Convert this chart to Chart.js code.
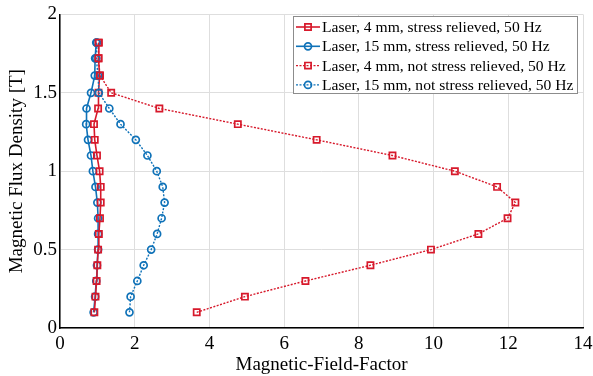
<!DOCTYPE html>
<html lang="en">
<head>
    <meta charset="UTF-8">
    <title>Magnetic-Field-Factor</title>
    <script src="https://cdn.jsdelivr.net/npm/chart.js"></script>
    <style>
        html, body { margin: 0; padding: 0; background: #fff; }
    </style>
</head>
<body>
    <canvas id="myChart" width="593" height="376"></canvas>

    <script>
        // flux density steps (T)
        const fluxDensity = [0.1, 0.2, 0.3, 0.4, 0.5, 0.6, 0.7, 0.8, 0.9, 1.0, 1.1, 1.2, 1.3, 1.4, 1.5, 1.61, 1.72, 1.82];

        // magnetic-field-factor per series
        const laser4Relieved = [0.92, 0.95, 0.98, 1.0, 1.02, 1.04, 1.07, 1.09, 1.09, 1.06, 0.99, 0.93, 0.91, 1.02, 1.03, 1.06, 1.03, 1.04];
        const laser15Relieved = [0.90, 0.94, 0.97, 0.99, 1.02, 1.02, 1.02, 1.0, 0.95, 0.88, 0.83, 0.75, 0.70, 0.71, 0.83, 0.93, 0.94, 0.97];
        const laser4NotRelieved = [3.66, 4.95, 6.57, 8.31, 9.93, 11.2, 11.98, 12.19, 11.7, 10.57, 8.9, 6.87, 4.76, 2.66, 1.37, 1.07, 1.03, 1.03];
        const laser15NotRelieved = [1.86, 1.89, 2.07, 2.24, 2.44, 2.60, 2.72, 2.80, 2.75, 2.59, 2.34, 2.03, 1.62, 1.32, 1.04, 1.02, 0.97, 0.99];

        const seriesLabels = [
            'Laser, 4 mm, stress relieved, 50 Hz',
            'Laser, 15 mm, stress relieved, 50 Hz',
            'Laser, 4 mm, not stress relieved, 50 Hz',
            'Laser, 15 mm, not stress relieved, 50 Hz'
        ];

        const RED = '#d7192b';
        const BLUE = '#0f72b8';
        const FONT = "'Liberation Serif', 'Times New Roman', serif";

        function toPoints(xs) {
            return xs.map((x, i) => ({ x: x, y: fluxDensity[i] }));
        }

        function makeSet(label, xs, color, style, dashed) {
            return {
                label: label,
                data: toPoints(xs),
                showLine: true,
                borderColor: color,
                backgroundColor: 'rgba(255,255,255,0)',
                borderWidth: dashed ? 1.4 : 1.6,
                borderDash: dashed ? [2, 1.5] : [],
                pointStyle: style,
                pointRadius: style === 'rect' ? 4.4 : 3.5,
                pointBorderWidth: 1.7,
                pointBorderColor: color,
                pointBackgroundColor: 'rgba(255,255,255,0)'
            };
        }

        // legend drawn inside the plot, top right, like the original
        const boxLegend = {
            id: 'boxLegend',
            afterDraw(chart) {
                const ctx = chart.ctx;
                const left = 293, top = 16, w = 284, h = 77;
                ctx.save();
                ctx.fillStyle = '#fff';
                ctx.fillRect(left, top, w, h);
                ctx.strokeStyle = '#8c8c8c';
                ctx.lineWidth = 1;
                ctx.strokeRect(left + 0.5, top + 0.5, w, h);
                ctx.font = '15.6px ' + FONT;
                ctx.textBaseline = 'middle';
                seriesLabels.forEach((label, row) => {
                    const ds = chart.data.datasets.find(d => d.label === label);
                    const y = top + 11 + row * 19.3;
                    ctx.strokeStyle = ds.borderColor;
                    ctx.lineWidth = ds.borderWidth;
                    ctx.setLineDash(ds.borderDash);
                    ctx.beginPath();
                    ctx.moveTo(296, y);
                    ctx.lineTo(320, y);
                    ctx.stroke();
                    ctx.setLineDash([]);
                    ctx.fillStyle = 'rgba(255,255,255,0)';
                    ctx.lineWidth = ds.pointBorderWidth;
                    Chart.helpers.drawPoint(ctx, { pointStyle: ds.pointStyle, radius: ds.pointRadius, rotation: 0, borderWidth: ds.pointBorderWidth }, 308, y);
                    ctx.fillStyle = '#000';
                    ctx.fillText(ds.label, 322, y + 1);
                });
                ctx.restore();
            }
        };

        const ctx = document.getElementById('myChart').getContext('2d');

        // draw order: dotted first, solid on top
        const myChart = new Chart(ctx, {
            type: 'scatter',
            data: {
                datasets: [
                    makeSet(seriesLabels[2], laser4NotRelieved, RED, 'rect', true),
                    makeSet(seriesLabels[3], laser15NotRelieved, BLUE, 'circle', true),
                    makeSet(seriesLabels[0], laser4Relieved, RED, 'rect', false),
                    makeSet(seriesLabels[1], laser15Relieved, BLUE, 'circle', false)
                ]
            },
            options: {
                responsive: false,
                animation: false,
                layout: { padding: { top: 13, right: 1, left: 0, bottom: 0 } },
                plugins: {
                    legend: { display: false },
                    tooltip: { enabled: false }
                },
                scales: {
                    x: {
                        type: 'linear',
                        min: 0,
                        max: 14,
                        ticks: {
                            stepSize: 2,
                            color: '#000',
                            font: { family: FONT, size: 19 },
                            padding: 5,
                            maxRotation: 0
                        },
                        grid: { color: '#dedede', lineWidth: 1, drawTicks: false },
                        border: { color: '#000', width: 1.5 },
                        title: {
                            display: true,
                            text: 'Magnetic-Field-Factor',
                            color: '#000',
                            font: { family: FONT, size: 19 },
                            padding: { top: 0, bottom: 0 }
                        },
                        afterFit(scale) {
                            scale.height = 48;
                            scale.paddingRight = 10;
                        }
                    },
                    y: {
                        min: 0,
                        max: 2,
                        ticks: {
                            stepSize: 0.5,
                            color: '#000',
                            font: { family: FONT, size: 19 },
                            padding: 3,
                            callback: v => String(v)
                        },
                        grid: { color: '#dedede', lineWidth: 1, drawTicks: false },
                        border: { color: '#000', width: 1.5 },
                        title: {
                            display: true,
                            text: 'Magnetic Flux Density [T]',
                            color: '#000',
                            font: { family: FONT, size: 19 },
                            padding: { top: 6, bottom: 0 }
                        },
                        afterFit(scale) { scale.width = 60; }
                    }
                }
            },
            plugins: [boxLegend]
        });
    </script>
</body>
</html>
